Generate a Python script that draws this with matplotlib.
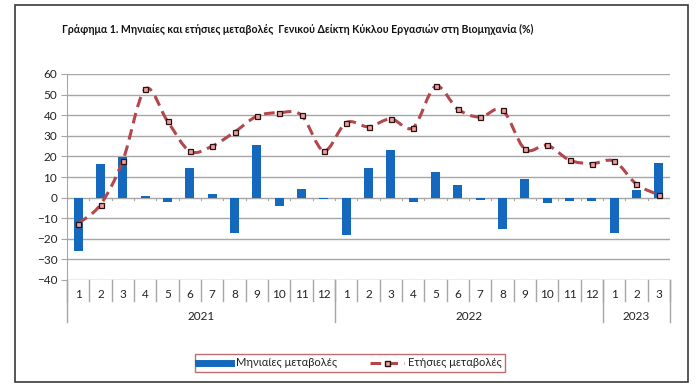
import matplotlib
matplotlib.use("Agg")
import matplotlib.pyplot as plt
from matplotlib.path import Path
from matplotlib.patches import PathPatch, Rectangle
from matplotlib.lines import Line2D
import numpy as np

months = ["1","2","3","4","5","6","7","8","9","10","11","12",
          "1","2","3","4","5","6","7","8","9","10","11","12",
          "1","2","3"]
years = ["2021", "2022", "2023"]
year_counts = [12, 12, 3]
monthly = [-26.1, 16.2, 19.8, 0.8, -2.1, 14.3, 1.8, -17.0, 25.4, -3.9, 4.2, -0.5,
           -18.0, 14.4, 23.0, -2.1, 12.5, 6.0, -1.0, -15.1, 9.1, -2.6, -1.5, -1.5,
           -17.0, 3.7, 16.7]
annual = [-12.6, -3.4, 18.0, 52.7, 37.1, 22.5, 25.0, 31.8, 39.5, 41.2, 40.0, 22.7,
          36.4, 34.4, 38.2, 34.0, 54.0, 42.9, 39.1, 42.5, 23.5, 25.4, 18.2, 16.5,
          17.7, 6.5, 1.3]
title = "Γράφημα 1. Μηνιαίες και ετήσιες μεταβολές  Γενικού Δείκτη Κύκλου Εργασιών στη Βιομηχανία (%)"
label_monthly = "Μηνιαίες μεταβολές"
label_annual = "Ετήσιες μεταβολές"

plt.rcParams['font.family'] = ['Lato', 'Noto Sans', 'DejaVu Sans']

W, H = 698, 387
fig = plt.figure(figsize=(W/100, H/100), dpi=100)
fig.patch.set_facecolor("white")

# outer frame
fig.patches.append(Rectangle((15/W, 1-382/H), (688-15)/W, (382-5)/H, transform=fig.transFigure,
                             fill=False, edgecolor="#3a3a3a", linewidth=1.2))

ax = fig.add_axes([67/W, 1-280/H, (670-67)/W, (280-74)/H])
x = np.arange(len(months))
bar_c = "#1469BE"
line_c = "#B3474B"
grid_c = "#A6A6A6"
txt_c = "#222222"

ax.set_xlim(-0.5, len(months)-0.5)
ax.set_ylim(-40, 60)
ax.set_yticks(np.arange(-40, 61, 10))
for yv in np.arange(-40, 61, 10):
    ax.axhline(yv, color=grid_c, lw=1.0, zorder=0)
for s in ["top", "right", "bottom"]:
    ax.spines[s].set_visible(False)
ax.spines["left"].set_color(grid_c)
ax.tick_params(axis="y", length=4, color=grid_c, labelsize=8.5, labelcolor=txt_c, pad=3)
ax.tick_params(axis="x", length=0, labelbottom=False)

ax.bar(x, monthly, width=0.4, color=bar_c, zorder=2)

# smoothed line (Bezier through data points)
pts = np.column_stack([x, annual]).astype(float)
verts = [tuple(pts[0])]
codes = [Path.MOVETO]
n = len(pts)
for i in range(n-1):
    p0 = pts[i-1] if i > 0 else pts[i]
    p1 = pts[i]
    p2 = pts[i+1]
    p3 = pts[i+2] if i+2 < n else pts[i+1]
    c1 = p1 + (p2 - p0) / 6.0
    c2 = p2 - (p3 - p1) / 6.0
    verts += [tuple(c1), tuple(c2), tuple(p2)]
    codes += [Path.CURVE4]*3
path = Path(verts, codes)
ax.add_patch(PathPatch(path, facecolor="none", edgecolor=line_c, lw=2.2,
                       linestyle=(0, (3.5, 2)), zorder=3))
ax.plot(x, annual, linestyle="none", marker="s", markersize=3.6,
        markerfacecolor="#E8A0A0", markeredgecolor="#2a1010", markeredgewidth=0.9, zorder=4)

# zero axis ticks
trans = ax.get_xaxis_transform()
for b in np.arange(-0.5, len(months), 1):
    ax.plot([b, b], [0, -1.0], color=grid_c, lw=0.8, zorder=1)

# category axis
h_month = 21/206
h_year = 42/206
for b in np.arange(-0.5, len(months)+0.5, 1):
    ax.plot([b, b], [0, -h_month], transform=trans, color=grid_c, lw=1.0, clip_on=False)
for i, m in enumerate(months):
    ax.text(i, -14/206, m, transform=trans, ha="center", va="center", fontsize=8.5,
            color=txt_c)
start = -0.5
for yr, c in zip(years, year_counts):
    end = start + c
    ax.plot([start, start], [0, -h_year], transform=trans, color=grid_c, lw=1.0, clip_on=False)
    ax.text((start+end)/2, -36/206, yr, transform=trans, ha="center", va="center", fontsize=8.5,
            color=txt_c)
    start = end
ax.plot([start, start], [0, -h_year], transform=trans, color=grid_c, lw=1.0, clip_on=False)

fig.text(298/W, 1-29/H, title, ha="center", va="center", fontsize=7.6, fontweight="bold",
         color="#111111")

# legend
handles = [Line2D([], [], color=bar_c, lw=5),
           Line2D([], [], color=line_c, lw=2.2, linestyle=(0, (3.5, 2)), marker="s", markersize=3.6,
                  markerfacecolor="#E8A0A0", markeredgecolor="#2a1010")]
leg = fig.legend(handles, [label_monthly, label_annual], loc="center",
                 bbox_to_anchor=(350/W, 1-363/H), ncol=2, frameon=True, fancybox=False,
                 fontsize=8, handlelength=3.0, columnspacing=3.0, borderpad=0.3,
                 handletextpad=0.4, borderaxespad=0)
leg.get_frame().set_edgecolor("#B3474B")
leg.get_frame().set_linewidth(1.0)
for t in leg.get_texts():
    t.set_color(txt_c)

fig.savefig("out.png", dpi=100, facecolor="white")
